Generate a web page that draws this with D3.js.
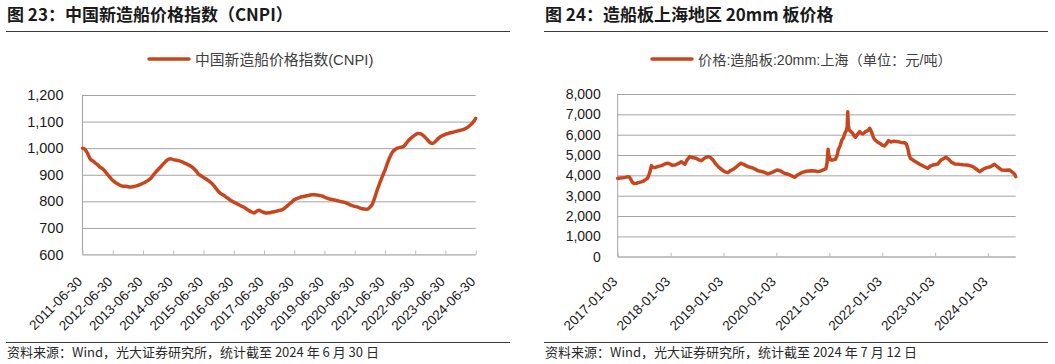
<!DOCTYPE html>
<html>
<head>
<meta charset="utf-8">
<script src="https://cdn.jsdelivr.net/npm/d3@7"></script>
<style>
  html, body { margin: 0; padding: 0; background: #fff; }
  svg { display: block; }
</style>
</head>
<body>
<svg id="chart" width="1055" height="364"></svg>
<script>
// ---------------- DATA ----------------
// Left chart: 中国新造船价格指数 (CNPI), month-end values from 2011-06-30
const cnpiStart = "2011-06-30";
const cnpiValues = [
  1000, 995, 980, 960, 952, 945, 937,
  928, 922, 912, 900, 889, 878, 871, 865, 860, 857, 857, 855,
  854, 855, 857, 860, 864, 868, 873, 879, 886, 898, 910, 920,
  930, 940, 950, 958, 960, 957, 955, 953, 950, 946, 942, 937,
  932, 925, 915, 903, 896, 890, 884, 877, 870, 860, 848, 836,
  828, 823, 816, 809, 802, 797, 792, 787, 782, 778, 771, 765,
  760, 756, 762, 766, 762, 758, 756, 757, 759, 761, 763, 766,
  768, 773, 781, 789, 797, 806, 810, 814, 817, 819, 821, 823,
  825, 825, 824, 822, 820, 816, 812, 809, 807, 805, 803, 800,
  798, 796, 792, 788, 784, 781, 779, 775, 772, 771, 770, 778,
  791, 815, 845, 870, 895, 917, 945, 968, 986, 995, 1000, 1003,
  1005, 1012, 1025, 1035, 1043, 1050, 1055, 1054, 1049, 1040, 1030, 1020,
  1018, 1025, 1035, 1043, 1048, 1052, 1055, 1058, 1060, 1063, 1065, 1068,
  1070, 1074, 1080, 1088, 1098, 1112
];
const cnpiTickLabels = ["2011-06-30","2012-06-30","2013-06-30","2014-06-30","2015-06-30","2016-06-30","2017-06-30",
  "2018-06-30","2019-06-30","2020-06-30","2021-06-30","2022-06-30","2023-06-30","2024-06-30"];
const cnpiYTicks = [600, 700, 800, 900, 1000, 1100, 1200];

// Right chart: 价格:造船板:20mm:上海 (元/吨)
const plateDates = [
  "2017-01-03","2017-01-20","2017-02-08","2017-02-24","2017-03-14","2017-03-24","2017-04-03","2017-04-14","2017-04-26","2017-05-12",
  "2017-05-26","2017-06-14","2017-06-30","2017-07-14","2017-07-28","2017-08-08","2017-08-14","2017-08-24","2017-08-31","2017-09-15",
  "2017-10-10","2017-11-02","2017-11-24","2017-12-15","2017-12-29","2018-01-16","2018-02-08","2018-03-02","2018-03-18","2018-04-02",
  "2018-04-12","2018-04-26","2018-05-15","2018-06-01","2018-06-28","2018-07-18","2018-08-04","2018-08-24","2018-09-17","2018-10-05",
  "2018-10-23","2018-11-12","2018-12-03","2018-12-20","2019-01-10","2019-02-03","2019-02-22","2019-03-11","2019-04-02","2019-05-01",
  "2019-05-22","2019-06-21","2019-07-25","2019-08-29","2019-09-30","2019-11-06","2019-12-05","2020-01-08","2020-01-31","2020-02-28",
  "2020-03-30","2020-04-22","2020-05-08","2020-05-28","2020-06-25","2020-07-28","2020-09-02","2020-09-28","2020-10-16","2020-11-06",
  "2020-11-21","2020-12-10","2020-12-18","2020-12-25","2020-12-31","2021-01-12","2021-01-28","2021-02-14","2021-02-26","2021-03-05",
  "2021-03-18","2021-03-30","2021-04-10","2021-04-20","2021-04-30","2021-05-06","2021-05-10","2021-05-13","2021-05-20","2021-06-01",
  "2021-06-13","2021-06-22","2021-07-02","2021-07-16","2021-07-31","2021-08-10","2021-08-22","2021-09-10","2021-09-28","2021-10-08",
  "2021-10-20","2021-11-01","2021-11-10","2021-12-01","2021-12-16","2022-01-05","2022-01-19","2022-02-05","2022-02-14","2022-03-05",
  "2022-03-25","2022-04-20","2022-05-12","2022-06-06","2022-06-20","2022-06-28","2022-07-08","2022-07-16","2022-08-10","2022-09-16",
  "2022-10-15","2022-11-13","2022-11-30","2022-12-20","2023-01-22","2023-02-13","2023-03-01","2023-03-18","2023-04-05","2023-04-25",
  "2023-05-19","2023-06-20","2023-07-15","2023-08-08","2023-08-30","2023-09-20","2023-10-15","2023-11-07","2023-11-30","2023-12-24",
  "2024-01-20","2024-02-17","2024-03-08","2024-04-05","2024-05-01","2024-05-30","2024-06-20","2024-07-05","2024-07-12"
];
const plateValues = [
  3850, 3870, 3880, 3900, 3935, 3920, 3810, 3660, 3600, 3610,
  3640, 3680, 3720, 3790, 3856, 4050, 4182, 4480, 4400, 4380,
  4440, 4480, 4560, 4594, 4560, 4490, 4520, 4600, 4672, 4590,
  4540, 4750, 4920, 4880, 4840, 4760, 4722, 4840, 4920, 4880,
  4757, 4550, 4390, 4299, 4180, 4132, 4240, 4299, 4420, 4594,
  4540, 4427, 4360, 4230, 4180, 4068, 4150, 4265, 4220, 4102,
  4040, 3960, 3905, 4020, 4132, 4200, 4230, 4210, 4182, 4220,
  4265, 4330, 4600, 5283, 4950, 4757, 4760, 4790, 5000, 5248,
  5450, 5740, 5850, 6070, 6200, 6400, 7132, 6500, 6232, 6150,
  6070, 5950, 5873, 6020, 6149, 6080, 6035, 6150, 6220, 6316,
  6150, 5900, 5775, 5640, 5578, 5480, 5445, 5600, 5706, 5640,
  5680, 5657, 5620, 5608, 5520, 5332, 5000, 4840, 4720, 4560,
  4450, 4347, 4450, 4510, 4560, 4757, 4820, 4889, 4800, 4650,
  4560, 4540, 4520, 4510, 4480, 4427, 4300, 4182, 4300, 4378,
  4420, 4545, 4420, 4265, 4250, 4265, 4150, 4050, 3935
];
const plateTickLabels = ["2017-01-03","2018-01-03","2019-01-03","2020-01-03","2021-01-03","2022-01-03","2023-01-03","2024-01-03"];
const plateYTicks = [0, 1000, 2000, 3000, 4000, 5000, 6000, 7000, 8000];

// ---------------- DRAW ----------------
const svg = d3.select("#chart");
const parse = d3.timeParse("%Y-%m-%d");
const fmt = d3.format(",");
const LINE_COLOR = "#c8461e";
const CJK = "'Noto Sans CJK SC', 'Noto Sans', sans-serif";
const LAT = "'Liberation Sans', Arial, 'Noto Sans CJK SC', sans-serif";

svg.append("rect").attr("width", 1055).attr("height", 364).attr("fill", "#fff");

function drawPanel(cfg) {
  const g = svg.append("g");
  // Title
  g.append("text").attr("x", cfg.titleX).attr("y", 21)
    .attr("font-family", CJK).attr("font-weight", "bold").attr("font-size", 17)
    .attr("fill", "#1a1a1a").text(cfg.title);
  g.append("line").attr("x1", cfg.ruleX0).attr("x2", cfg.ruleX1).attr("y1", 31.5).attr("y2", 31.5)
    .attr("stroke", "#3a3a3a").attr("stroke-width", 1);
  // Legend
  g.append("line").attr("x1", cfg.legX).attr("x2", cfg.legX + 40).attr("y1", 59).attr("y2", 59)
    .attr("stroke", LINE_COLOR).attr("stroke-width", 3.5).attr("stroke-linecap", "round");
  g.append("text").attr("x", cfg.legX + 46).attr("y", 64.5)
    .attr("font-family", LAT).attr("font-size", cfg.legFont).attr("fill", "#404040").text(cfg.legend);

  const x = d3.scaleTime().domain(cfg.xDomain).range([cfg.x0, cfg.x1]);
  const y = d3.scaleLinear().domain(cfg.yDomain).range([cfg.y1, cfg.y0]);

  // Gridlines
  const grid = g.append("g")
    .attr("transform", `translate(${cfg.x0},0)`)
    .call(d3.axisLeft(y).tickValues(cfg.yTicks).tickSize(-(cfg.x1 - cfg.x0)).tickFormat(""));
  grid.select(".domain").remove();
  grid.selectAll(".tick line").attr("stroke", "#a3a3a3").attr("stroke-width", 1);

  // Y labels
  const yl = g.append("g").attr("transform", `translate(${cfg.x0},0)`)
    .call(d3.axisLeft(y).tickValues(cfg.yTicks).tickSize(0).tickPadding(cfg.yPad).tickFormat(fmt));
  yl.select(".domain").remove();
  yl.selectAll("text").attr("font-family", LAT).attr("font-size", cfg.yFont).attr("fill", "#1a1a1a");

  // Left axis line
  g.append("line").attr("x1", cfg.x0).attr("x2", cfg.x0).attr("y1", cfg.y0).attr("y2", cfg.y1)
    .attr("stroke", "#a3a3a3").attr("stroke-width", 1);

  // Bottom axis with inward ticks
  const xa = g.append("g").attr("transform", `translate(0,${cfg.y1})`)
    .call(d3.axisBottom(x).tickValues(cfg.tickLabels.map(parse)).tickSize(-4).tickFormat(""));
  xa.select(".domain").attr("stroke", "#bdbdbd").attr("d", `M${cfg.x0},0H${cfg.x1}`);
  xa.selectAll(".tick line").attr("stroke", "#bdbdbd");
  // Rotated labels
  g.append("g").selectAll("text").data(cfg.tickLabels).join("text")
    .attr("transform", d => `translate(${x(parse(d)) + 0.5},282.5) rotate(-45)`)
    .attr("text-anchor", "end")
    .attr("font-family", LAT).attr("font-size", 13.5).attr("fill", "#1a1a1a")
    .text(d => d);

  // Series line
  const line = d3.line().x(d => x(d.date)).y(d => y(d.value)).curve(cfg.curve);
  g.append("path").datum(cfg.data).attr("d", line)
    .attr("fill", "none").attr("stroke", LINE_COLOR).attr("stroke-width", 3.5)
    .attr("stroke-linejoin", "round").attr("stroke-linecap", "round");

  // Footer
  g.append("line").attr("x1", cfg.ruleX0).attr("x2", cfg.ruleX1).attr("y1", 342.5).attr("y2", 342.5)
    .attr("stroke", "#3a3a3a").attr("stroke-width", 1);
  g.append("text").attr("x", cfg.titleX).attr("y", 357)
    .attr("font-family", CJK).attr("font-size", 13).attr("fill", "#2a2a2a").text(cfg.footer);
}

const cnpiStartDate = parse(cnpiStart);
const cnpiData = cnpiValues.map((v, i) => ({
  date: d3.timeDay.offset(d3.timeMonth.offset(d3.timeDay.offset(cnpiStartDate, 1), i), -1),
  value: v
}));
const plateData = plateDates.map((d, i) => ({ date: parse(d), value: plateValues[i] }));

drawPanel({
  title: "图 23：中国新造船价格指数（CNPI）",
  legend: "中国新造船价格指数(CNPI)",
  footer: "资料来源：Wind，光大证券研究所，统计截至 2024 年 6 月 30 日",
  titleX: 7, ruleX0: 6, ruleX1: 510, legX: 149, legFont: 14.8,
  x0: 82.5, x1: 475.7, y0: 95, y1: 254.5,
  xDomain: [parse("2011-06-30"), parse("2024-06-30")],
  yDomain: [600, 1200], yTicks: cnpiYTicks, yPad: 19, yFont: 14.5,
  tickLabels: cnpiTickLabels,
  data: cnpiData, curve: d3.curveMonotoneX
});

drawPanel({
  title: "图 24：造船板上海地区 20mm 板价格",
  legend: "价格:造船板:20mm:上海（单位：元/吨）",
  footer: "资料来源：Wind，光大证券研究所，统计截至 2024 年 7 月 12 日",
  titleX: 545, ruleX0: 544, ruleX1: 1048, legX: 652, legFont: 14.2,
  x0: 617.7, x1: 1015.7, y0: 94, y1: 256.7,
  xDomain: [parse("2017-01-03"), parse("2024-07-12")],
  yDomain: [0, 8000], yTicks: plateYTicks, yPad: 17, yFont: 14,
  tickLabels: plateTickLabels,
  data: plateData, curve: d3.curveLinear
});
</script>
</body>
</html>
